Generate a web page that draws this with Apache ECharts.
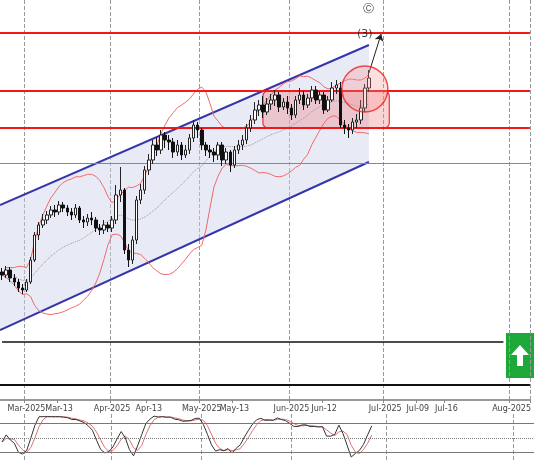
<!DOCTYPE html>
<html>
<head>
<meta charset="utf-8">
<script src="https://cdn.jsdelivr.net/npm/echarts@6/dist/echarts.min.js"></script>
<style>html,body{margin:0;padding:0;background:#fff}#chart{width:534px;height:462px}</style>
</head>
<body>
<div id="chart"></div>
<script>
// candles: [open, close, low, high]
var candles = [
	[128,125,120,132],[125,130,122,134],[130,122,118,133],[122,118,114,126],[118,112,108,121],[112,110,106,116],
	[110,118,108,121],[118,140,116,143],[140,165,138,168],[165,175,160,178],[175,180,172,186],
	[180,185,176,189],[185,190,182,194],[190,188,183,195],[188,195,185,199],[195,192,188,198],
	[192,188,184,195],[188,185,180,192],[185,192,182,196],[192,180,177,194],[180,178,172,184],
	[178,182,174,186],[182,180,175,188],[180,172,168,183],[172,170,165,176],[170,175,166,180],
	[175,172,168,178],[172,180,168,184],[180,205,176,215],[205,210,198,233],[210,150,146,212],
	[150,140,133,156],[140,160,136,164],[160,200,156,204],[200,210,196,216],[210,230,206,234],
	[230,240,225,246],[240,255,236,260],[255,250,244,262],[250,265,246,270],[265,260,252,268],
	[260,258,250,265],[258,248,242,262],[248,255,244,260],[255,245,240,258],[245,250,242,255],
	[250,262,246,266],[262,275,258,280],[275,270,262,278],[270,255,250,272],[255,250,244,258],
	[250,248,242,255],[248,245,238,252],[245,255,240,258],[255,240,234,258],[240,248,236,252],
	[248,235,228,250],[235,250,232,254],[250,255,246,260],[255,260,250,265],[260,272,256,276],
	[272,280,268,285],[280,290,276,298],[290,295,284,300],[295,288,282,304],[288,296,285,302],
	[296,300,290,306],[300,305,294,310],[305,293,288,308],[293,298,290,302],[298,292,286,304],
	[292,285,280,296],[285,300,282,304],[300,305,296,312],[305,295,290,309],[295,302,292,306],
	[302,310,298,314],[310,300,296,314],[300,305,296,309],[305,290,286,308],[290,300,288,304],
	[300,312,298,318],[312,315,306,320],[312,275,272,318],[275,272,266,280],[272,270,262,276],
	[270,278,266,282],[278,280,272,286],[280,292,276,300],[292,312,288,316],[312,322,308,330]
];
var channelIdx = [0, 90];
var channelUpper = [194, 355];
var channelLower = [71, 238];
var redLevels = [367, 309, 272];
var grayLevel = 237;
var boxRange = [[64, 309], [95, 272]];
var tickLabels = {
	'2025-03-03':'Mar-2025','2025-03-13':'Mar-13','2025-04-01':'Apr-2025','2025-04-14':'Apr-13',
	'2025-05-01':'May-2025','2025-05-13':'May-13','2025-06-02':'Jun-2025','2025-06-12':'Jun-12',
	'2025-07-01':'Jul-2025','2025-07-09':'Jul-09','2025-07-16':'Jul-16','2025-08-01':'Aug-2025'
};
var monthStarts = ['2025-03-03','2025-04-01','2025-05-01','2025-06-02','2025-07-01','2025-08-01'];

// trading days up to 27 Jun, calendar days afterwards
var dates = [];
(function() {
	var d = new Date(Date.UTC(2025, 1, 21));
	var end = new Date(Date.UTC(2025, 7, 5));
	var switchDay = new Date(Date.UTC(2025, 5, 28));
	while (d <= end) {
		var wd = d.getUTCDay();
		if (d >= switchDay || (wd !== 0 && wd !== 6)) dates.push(d.toISOString().slice(0, 10));
		d.setUTCDate(d.getUTCDate() + 1);
	}
})();

// bollinger 20/2
var bbMid = [], bbUp = [], bbLow = [];
candles.forEach(function(c, i) {
	var s = Math.max(0, i - 19), arr = candles.slice(s, i + 1).map(function(x) { return x[1]; });
	var m = arr.reduce(function(a, b) { return a + b; }, 0) / arr.length;
	var sd = Math.sqrt(arr.reduce(function(a, b) { return a + (b - m) * (b - m); }, 0) / arr.length);
	bbMid.push(m); bbUp.push(m + 2 * sd); bbLow.push(m - 2 * sd);
});
// stochastic 14,3,3
var rawK = candles.map(function(c, i) {
	var w = candles.slice(Math.max(0, i - 13), i + 1);
	var hi = Math.max.apply(null, w.map(function(x) { return x[3]; }));
	var lo = Math.min.apply(null, w.map(function(x) { return x[2]; }));
	return hi === lo ? 50 : (c[1] - lo) / (hi - lo) * 100;
});
function sma(a, n) {
	return a.map(function(v, i) {
		var w = a.slice(Math.max(0, i - n + 1), i + 1);
		return w.reduce(function(x, y) { return x + y; }, 0) / w.length;
	});
}
var stochK = sma(rawK, 3), stochD = sma(stochK, 3);

var chart = echarts.init(document.getElementById('chart'));
var split = {
	show : true,
	interval : function(i, v) { return monthStarts.indexOf(v) >= 0; },
	lineStyle : { color : '#999', type : 'dashed', width : 1 }
};
chart.setOption({
	animation : false,
	grid : [
		{ left : 0, right : 0, top : 0, height : 402 },
		{ left : 0, right : 0, top : 414, height : 49 }
	],
	xAxis : [ {
		type : 'category', data : dates, gridIndex : 0,
		axisLine : { lineStyle : { color : '#999', width : 2 } },
		axisTick : { show : true, interval : function(i, v) { return !!tickLabels[v]; }, lineStyle : { color : '#888' }, length : 3 },
		axisLabel : {
			interval : function(i, v) { return !!tickLabels[v]; },
			formatter : function(v) { return tickLabels[v] || ''; },
			fontSize : 8, color : '#444', margin : 3, fontFamily : 'DejaVu Sans'
		},
		splitLine : split
	}, {
		type : 'category', data : dates, gridIndex : 1,
		axisLine : { show : false }, axisTick : { show : false }, axisLabel : { show : false },
		splitLine : split
	} ],
	yAxis : [
		{ type : 'value', min : -2, max : 400, gridIndex : 0, show : false },
		{ type : 'value', min : 0, max : 100, gridIndex : 1, show : false }
	],
	graphic : [ {
		type : 'group', right : 0, top : 333,
		children : [
			{ type : 'rect', shape : { x : 0, y : 0, width : 28, height : 45 }, style : { fill : '#1fa83a' } },
			{ type : 'polygon', shape : { points : [[14,12],[23,22],[17,22],[17,33],[11,33],[11,22],[5,22]] }, style : { fill : '#fff' } }
		]
	} ],
	series : [ {
		type : 'custom', xAxisIndex : 0, yAxisIndex : 0, silent : true, z : 1,
		data : [0],
		renderItem : function(params, api) {
			var pts = [
				api.coord([channelIdx[0], channelLower[0]]), api.coord([channelIdx[1], channelLower[1]]),
				api.coord([channelIdx[1], channelUpper[1]]), api.coord([channelIdx[0], channelUpper[0]])
			];
			pts[0][0] = 0; pts[3][0] = 0;
			var lo0 = pts[0], up0 = pts[3];
			var b0 = api.coord(boxRange[0]), b1 = api.coord(boxRange[1]);
			return { type : 'group', children : [
				{ type : 'polygon', shape : { points : pts }, style : { fill : 'rgba(205,208,235,0.45)' } },
				{ type : 'line', shape : { x1 : 0, y1 : up0[1] - 1, x2 : pts[2][0], y2 : pts[2][1] }, style : { stroke : '#3535a8', lineWidth : 2 } },
				{ type : 'line', shape : { x1 : 0, y1 : lo0[1] + 1, x2 : pts[1][0], y2 : pts[1][1] }, style : { stroke : '#3535a8', lineWidth : 2 } },
				{ type : 'rect', z2 : 5, shape : { x : b0[0], y : b0[1], width : b1[0] - b0[0], height : b1[1] - b0[1], r : 5 },
					style : { fill : 'rgba(240,130,130,0.35)', stroke : '#e33', lineWidth : 1.2 } }
			] };
		}
	}, {
		type : 'line', data : bbUp, symbol : 'none', lineStyle : { color : '#f06a6a', width : 1 }, z : 3
	}, {
		type : 'line', data : bbLow, symbol : 'none', lineStyle : { color : '#f06a6a', width : 1 }, z : 3
	}, {
		type : 'line', data : bbMid, symbol : 'none', lineStyle : { color : '#999', width : 1, type : 'dotted' }, z : 3
	}, {
		type : 'candlestick', data : candles.map(function(c) { return [c[0], c[1], c[2], c[3]]; }),
		barWidth : 3, z : 5,
		itemStyle : { color : '#fff', color0 : '#111', borderColor : '#222', borderColor0 : '#111', borderWidth : 1 },
		markLine : {
			silent : true, symbol : 'none', label : { show : false },
			data : redLevels.map(function(v) {
				return { yAxis : v, lineStyle : { color : '#f01818', width : 2, type : 'solid' } };
			}).concat([
				{ yAxis : grayLevel, lineStyle : { color : '#888', width : 1, type : 'solid' } },
				[ { coord : [0, 58], lineStyle : { color : '#111', width : 1.5, type : 'solid' } }, { coord : [123, 58] } ],
				{ yAxis : 15, lineStyle : { color : '#111', width : 2, type : 'solid' } },
				[ { coord : [90, 327], symbol : 'none', lineStyle : { color : '#222', width : 1, type : 'solid' } }, { coord : [93, 366], symbol : 'arrow', symbolSize : 7 } ]
			])
		}
	}, {
		type : 'scatter', data : [[89, 311]], symbolSize : 46, z : 6, silent : true,
		itemStyle : { color : 'rgba(250,140,140,0.35)', borderColor : '#e22', borderWidth : 1.5 }
	}, {
		type : 'scatter', data : [[89, 366], [90, 391]], symbolSize : 0, z : 7, silent : true,
		label : {
			show : true, position : 'inside', color : '#111', fontSize : 11, fontFamily : 'DejaVu Sans',
			formatter : function(p) { return p.dataIndex === 0 ? '(3)' : '\u24b8'; }
		}
	}, {
		type : 'line', xAxisIndex : 1, yAxisIndex : 1, data : stochD, symbol : 'none',
		lineStyle : { color : '#e07070', width : 1 },
		markLine : {
			silent : true, symbol : 'none', label : { show : false },
			data : [
				{ yAxis : 80, lineStyle : { color : '#777', width : 1, type : 'solid' } },
				{ yAxis : 50, lineStyle : { color : '#777', width : 1, type : 'dotted' } },
				{ yAxis : 20, lineStyle : { color : '#777', width : 1, type : 'solid' } }
			]
		}
	}, {
		type : 'line', xAxisIndex : 1, yAxisIndex : 1, data : stochK, symbol : 'none',
		lineStyle : { color : '#333', width : 1 }
	} ]
});
</script>
</body>
</html>
